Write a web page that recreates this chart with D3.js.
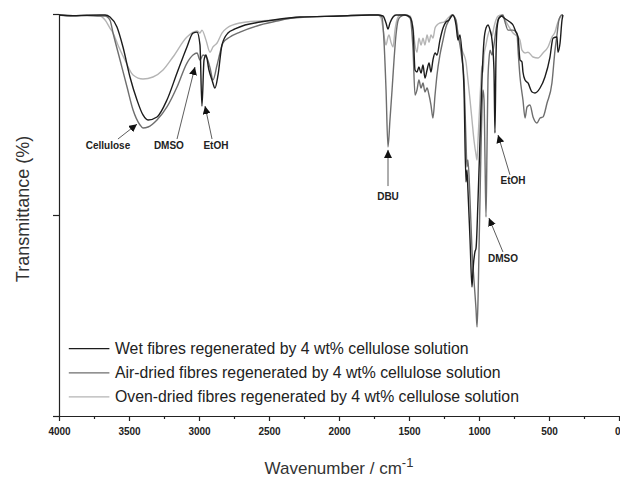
<!DOCTYPE html>
<html>
<head>
<meta charset="utf-8">
<script src="https://cdn.jsdelivr.net/npm/d3@7"></script>
<style>
  html, body { margin: 0; padding: 0; background: #fff; }
  svg { display: block; }
  text { font-family: Arial, "Liberation Sans", sans-serif; }
</style>
</head>
<body>
<svg id="chart" width="620" height="479"></svg>
<script>
// ---------- DATA (wavenumber cm-1, transmittance in relative %) ----------
const xTicksMajor = [4000, 3500, 3000, 2500, 2000, 1500, 1000, 500, 0];
const xTicksMinor = [3750, 3250, 2750, 2250, 1750, 1250, 750, 250];
const yTicks = [0, 50, 100];

const seriesNames = [
  "Wet fibres regenerated by 4 wt% cellulose solution",
  "Air-dried fibres regenerated by 4 wt% cellulose solution",
  "Oven-dried fibres regenerated by 4 wt% cellulose solution"
];

const wetData = [
  [4000,99.75],[3900,99.6],[3800,99.7],[3707,99.75],[3671,99.75],[3636,99.25],[3586,96.77],[3543,91.8],
  [3493,84.33],[3443,78.6],[3400,74.88],[3364,73.63],[3300,74.38],[3229,78.6],[3157,85.32],
  [3086,91.8],[3043,95.27],[3014,95.5],[2993,92.3],[2979,77.11],[2964,88.56],[2950,89.8],
  [2929,86.07],[2907,83.58],[2886,81.59],[2864,84.83],[2836,92.3],[2793,95.27],[2743,96.27],
  [2671,97.26],[2564,98.0],[2421,98.76],[2279,99.25],[1993,99.5],[1779,99.75],[1721,99.75],
  [1686,99.5],[1664,97.76],[1650,96.27],[1636,97.76],[1614,99.25],[1593,99.75],[1564,99.75],
  [1529,99.75],[1493,99.25],[1471,96.0],[1457,86.07],[1443,85.57],[1429,86.8],[1414,85.32],
  [1400,87.3],[1386,84.08],[1371,86.07],[1357,87.8],[1343,85.57],[1329,88.56],[1314,90.3],
  [1300,89.8],[1279,93.5],[1257,96.5],[1236,98.0],[1214,98.5],[1200,99.25],[1186,99.75],
  [1164,97.26],[1150,93.5],[1136,94.78],[1121,89.8],[1107,81.1],[1093,58.21],[1086,61.19],
  [1079,56.22],[1064,43.78],[1050,32.09],[1043,36.32],[1029,40.8],[1021,41.79],[1007,53.73],
  [993,68.66],[979,83.58],[964,93.5],[950,96.5],[936,97.26],[921,96.0],[907,93.5],[893,86.07],
  [886,70.4],[879,88.56],[871,96.5],[857,99.0],[836,99.5],[829,99.25],[800,98.5],[779,98.0],
  [757,97.26],[736,95.5],[721,94.28],[707,88.56],[693,88.06],[686,85.57],[671,83.58],
  [650,82.84],[621,80.6],[600,80.35],[564,81.59],[529,84.33],[493,89.3],[471,94.0],
  [443,94.28],[436,90.5],[421,92.79],[407,98.5],[400,99.75]
];

const airData = [
  [4000,99.75],[3900,99.5],[3800,99.6],[3707,99.5],[3671,99.5],[3636,98.5],[3614,95.27],[3564,88.56],
  [3514,81.84],[3471,76.12],[3421,72.39],[3400,71.64],[3364,71.89],[3300,73.63],[3229,76.87],
  [3157,81.84],[3086,87.8],[3043,89.8],[3014,90.3],[2993,88.56],[2971,89.8],[2943,89.05],
  [2921,86.57],[2900,83.58],[2871,87.3],[2829,92.79],[2779,94.28],[2707,95.5],[2564,97.26],
  [2443,98.26],[2329,99.0],[1993,99.5],[1779,99.75],[1721,99.75],[1693,99.25],[1679,93.5],
  [1664,81.1],[1650,66.92],[1636,73.63],[1621,81.1],[1607,88.56],[1593,94.78],[1579,98.26],
  [1564,99.25],[1529,99.75],[1493,99.0],[1471,91.0],[1457,79.85],[1443,81.1],[1429,83.58],
  [1414,81.59],[1400,82.84],[1386,80.6],[1371,81.59],[1357,79.85],[1343,77.36],[1329,74.13],
  [1314,79.85],[1300,84.83],[1279,89.8],[1257,93.5],[1236,96.77],[1214,98.5],[1193,99.75],
  [1164,98.5],[1150,94.78],[1136,92.3],[1121,88.56],[1107,83.58],[1093,68.66],[1086,61.94],
  [1079,63.68],[1064,53.73],[1050,41.29],[1036,33.83],[1021,26.37],[1014,22.14],[1007,28.86],
  [1000,41.29],[993,53.73],[986,66.17],[979,76.12],[971,81.1],[964,78.6],[957,63.68],
  [950,49.5],[943,66.17],[936,83.58],[929,88.56],[921,91.0],[907,89.8],[893,92.3],[879,96.0],
  [864,98.5],[850,99.25],[829,99.75],[814,98.0],[793,96.0],[757,96.0],[729,95.27],[721,91.0],
  [707,84.33],[686,78.6],[671,74.13],[657,76.87],[636,77.36],[614,74.38],[586,72.89],
  [564,74.13],[543,74.38],[514,77.86],[479,82.84],[457,91.0],[443,94.78],[429,98.5],
  [407,99.75],[400,99.75]
];

const ovenData = [
  [4000,99.75],[3900,99.6],[3800,99.7],[3707,99.5],[3671,98.5],[3636,96.5],[3614,95.27],[3579,92.3],
  [3529,88.56],[3471,84.83],[3400,83.83],[3329,84.33],[3257,86.07],[3186,89.3],[3086,94.28],
  [3014,95.77],[2993,95.27],[2979,96.0],[2950,93.5],[2921,90.5],[2900,91.8],[2871,92.79],
  [2836,95.27],[2800,96.5],[2707,97.76],[2564,98.26],[2443,98.5],[2279,99.25],[1993,99.5],
  [1779,99.75],[1721,99.75],[1700,99.0],[1686,96.5],[1671,93.0],[1664,92.3],[1650,94.28],
  [1643,94.78],[1629,93.0],[1614,91.8],[1600,96.0],[1586,98.5],[1564,99.75],[1529,99.75],
  [1493,99.5],[1471,96.5],[1457,92.3],[1443,90.5],[1429,94.0],[1414,92.3],[1400,94.0],
  [1386,92.3],[1371,94.78],[1357,93.0],[1343,94.78],[1329,94.0],[1314,96.5],[1300,97.26],
  [1279,97.76],[1250,98.0],[1221,99.0],[1193,99.75],[1164,98.0],[1150,95.27],[1136,93.0],
  [1121,91.0],[1107,89.8],[1093,88.06],[1079,83.58],[1064,78.6],[1050,73.63],[1036,68.66],
  [1021,64.93],[1014,63.68],[1007,68.66],[993,78.6],[986,83.58],[979,87.06],[971,85.57],
  [964,89.8],[950,92.3],[936,94.78],[921,96.0],[907,94.5],[893,96.77],[879,98.5],[864,99.5],
  [836,99.75],[814,98.5],[793,97.26],[757,95.27],[721,94.28],[707,93.5],[693,91.0],
  [671,90.3],[650,90.5],[614,89.3],[579,89.05],[543,90.3],[507,91.8],[479,94.28],
  [457,95.5],[443,97.26],[421,99.25],[407,99.75],[400,99.75]
];

// annotation labels with arrows (label position, arrow tail, arrow tip) in data units
const annotations = [
  { text: "Cellulose", label: [3650, 67.4], tail: [3579, 68.9], tip: [3443, 72.6] },
  { text: "DMSO",      label: [3215, 67.4], tail: [3157, 68.9], tip: [3029, 86.8] },
  { text: "EtOH",      label: [2879, 67.4], tail: [2907, 68.9], tip: [2957, 77.1] },
  { text: "DBU",       label: [1650, 54.7], tail: [1650, 57.2], tip: [1650, 66.2] },
  { text: "EtOH",      label: [757, 58.5],  tail: [779, 60.0],  tip: [864, 69.9] },
  { text: "DMSO",      label: [829, 39.3],  tail: [829, 40.8],  tip: [929, 49.25] }
];

// ---------- STYLE ----------
const colors = ["#1c1c1c", "#6e6e6e", "#b4b4b4"];
const margin = { left: 59, right: 1, top: 14, bottom: 63 };
const W = 620, H = 479;

const svg = d3.select("#chart");
const x = d3.scaleLinear().domain([4000, 0]).range([margin.left, W - margin.right]);
const y = d3.scaleLinear().domain([0, 100]).range([H - margin.bottom, margin.top]);

// arrow marker
svg.append("defs").append("marker")
  .attr("id", "arrow").attr("viewBox", "0 0 10 10")
  .attr("refX", 10).attr("refY", 5)
  .attr("markerWidth", 8).attr("markerHeight", 8)
  .attr("markerUnits", "userSpaceOnUse")
  .attr("orient", "auto")
  .append("path").attr("d", "M0,0 L10,5 L0,10 z").attr("fill", "#111");

// lines
const line = d3.line().x(d => x(d[0])).y(d => y(d[1])).curve(d3.curveMonotoneX);
const allData = [ovenData, airData, wetData];
const allColors = [colors[2], colors[1], colors[0]];
allData.forEach((data, i) => {
  svg.append("path").datum(data)
    .attr("fill", "none")
    .attr("stroke", allColors[i])
    .attr("stroke-width", 1.4)
    .attr("stroke-linejoin", "round")
    .attr("d", line);
});

// x axis
const xAxisG = svg.append("g").attr("transform", `translate(0,${y(0)})`);
xAxisG.call(d3.axisBottom(x).tickValues(xTicksMajor).tickSize(5).tickSizeOuter(0).tickPadding(7)
  .tickFormat(d3.format("d")));
xAxisG.append("g").call(d3.axisBottom(x).tickValues(xTicksMinor).tickSize(3).tickFormat(""))
  .select(".domain").remove();
xAxisG.selectAll("text").attr("font-size", 10).attr("font-weight", "bold")
  .attr("fill", "#222").attr("font-family", "Arial, 'Liberation Sans', sans-serif");
xAxisG.selectAll(".tick").filter(d => d === 0).select("text")
  .attr("text-anchor", "end").attr("dx", 1);
xAxisG.selectAll("line, path").attr("stroke", "#222").attr("stroke-width", 1.2);

// y axis
const yAxisG = svg.append("g").attr("transform", `translate(${x(4000)},0)`);
yAxisG.call(d3.axisLeft(y).tickValues(yTicks).tickSize(6).tickSizeOuter(0).tickFormat(""));
yAxisG.selectAll("line, path").attr("stroke", "#222").attr("stroke-width", 1.2);

// axis titles
svg.append("text")
  .attr("transform", `translate(24,${(y(0) + y(100)) / 2 - 6}) rotate(-90)`)
  .attr("text-anchor", "middle").attr("dominant-baseline", "middle")
  .attr("font-size", 18).attr("fill", "#333")
  .text("Transmittance (%)");

const xt = svg.append("text")
  .attr("x", x(2000)).attr("y", 474)
  .attr("text-anchor", "middle")
  .attr("font-size", 17).attr("fill", "#333");
xt.append("tspan").text("Wavenumber / cm");
xt.append("tspan").attr("dy", -7).attr("font-size", 13).text("-1");

// annotations
annotations.forEach(a => {
  svg.append("line")
    .attr("x1", x(a.tail[0])).attr("y1", y(a.tail[1]))
    .attr("x2", x(a.tip[0])).attr("y2", y(a.tip[1]))
    .attr("stroke", "#333").attr("stroke-width", 0.8)
    .attr("marker-end", "url(#arrow)");
  svg.append("text")
    .attr("x", x(a.label[0])).attr("y", y(a.label[1]))
    .attr("dy", "0.35em")
    .attr("text-anchor", "middle")
    .attr("font-size", 10).attr("font-weight", "bold").attr("fill", "#222")
    .text(a.text);
});

// legend
const legendRowsT = [17, 11, 5]; // legend rows placed in data units
const legend = svg.append("g");
seriesNames.forEach((name, i) => {
  const ly = y(legendRowsT[i]) + 1;
  legend.append("line")
    .attr("x1", x(3930)).attr("x2", x(3640))
    .attr("y1", ly).attr("y2", ly)
    .attr("stroke", colors[i]).attr("stroke-width", 1.2);
  legend.append("text")
    .attr("x", x(3600)).attr("y", ly).attr("dy", "0.35em")
    .attr("font-size", 15.8).attr("fill", "#222")
    .text(name);
});
</script>
</body>
</html>
